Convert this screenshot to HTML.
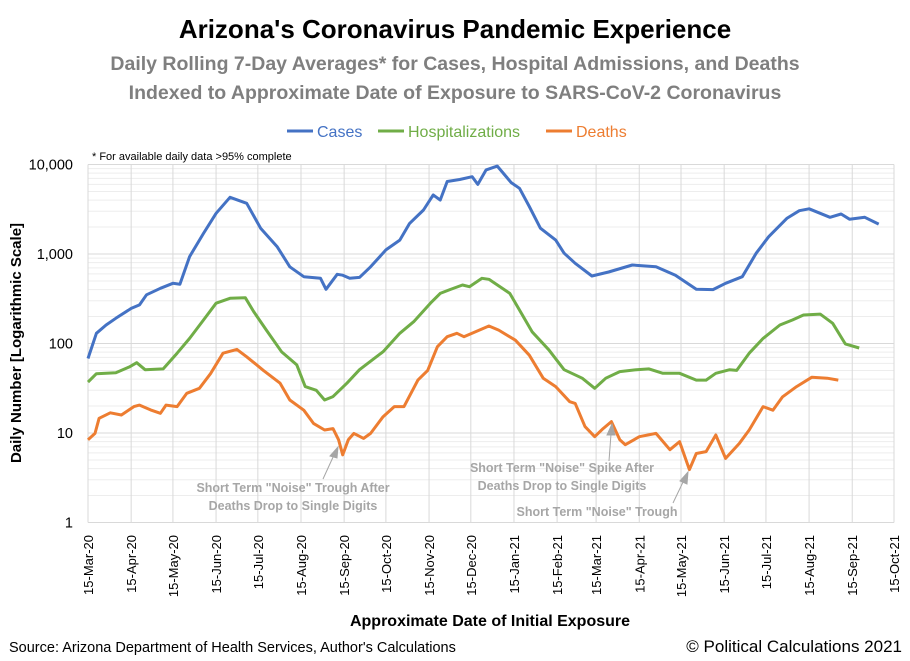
<!DOCTYPE html>
<html><head><meta charset="utf-8"><style>
html,body{margin:0;padding:0;background:#fff;}
svg{display:block;font-family:"Liberation Sans",sans-serif;}
</style></head><body>
<svg id="chart" width="910" height="661" viewBox="0 0 910 661">
<text x="455" y="38" text-anchor="middle" font-size="26" font-weight="bold" fill="#000">Arizona's Coronavirus Pandemic Experience</text>
<text x="455" y="70" text-anchor="middle" font-size="19.5" font-weight="bold" fill="#7f7f7f">Daily Rolling 7-Day Averages* for Cases, Hospital Admissions, and Deaths</text>
<text x="455" y="99" text-anchor="middle" font-size="19.5" font-weight="bold" fill="#7f7f7f">Indexed to Approximate Date of Exposure to SARS-CoV-2 Coronavirus</text>
<g>
<g><line x1="287" y1="131" x2="313" y2="131" stroke="#4472c4" stroke-width="3"/><text x="317" y="137" font-size="16" fill="#4472c4">Cases</text></g>
<g><line x1="378" y1="131" x2="404" y2="131" stroke="#70ad47" stroke-width="3"/><text x="408" y="137" font-size="16" fill="#70ad47">Hospitalizations</text></g>
<g><line x1="546" y1="131" x2="572" y2="131" stroke="#ed7d31" stroke-width="3"/><text x="576" y="137" font-size="16" fill="#ed7d31">Deaths</text></g>
</g>
<text x="92" y="160" font-size="11" fill="#000">* For available daily data &gt;95% complete</text>
<g id="grid"></g>
<g id="yticks"></g>
<g id="xticks"></g>
<g id="series"></g>
<text transform="translate(21,343) rotate(-90)" text-anchor="middle" font-size="15" font-weight="bold">Daily Number [Logarithmic Scale]</text>
<text x="490" y="626" text-anchor="middle" font-size="16" font-weight="bold">Approximate Date of Initial Exposure</text>
<text x="9" y="652" font-size="14.5">Source: Arizona Department of Health Services, Author's Calculations</text>
<text x="902" y="652" text-anchor="end" font-size="17">© Political Calculations 2021</text>
<g fill="#a6a6a6" font-size="12.5" font-weight="bold" text-anchor="middle">
<text x="293" y="492">Short Term "Noise" Trough After</text>
<text x="293" y="510">Deaths Drop to Single Digits</text>
<text x="562" y="472">Short Term "Noise" Spike After</text>
<text x="562" y="490">Deaths Drop to Single Digits</text>
<text x="597" y="516">Short Term "Noise" Trough</text>
</g>
<g stroke="#a6a6a6" stroke-width="1" fill="#a6a6a6">
<line x1="323" y1="479" x2="334" y2="455"/><polygon points="338,447 330,456 337,458"/>
<line x1="609" y1="461" x2="611" y2="434"/><polygon points="612,424 607,435 615,435"/>
<line x1="673" y1="503" x2="684" y2="480"/><polygon points="688,472 680,481 687,484"/>
</g>
</svg>
<script>
const caseDays=[0,6,13,20,31,37,42,52,61,66,73,83,92,102,114,124,136,145,155,167,171,179,183,188,195,203,214,224,231,241,248,253,258,267,276,280,286,294,304,310,317,325,336,342,350,362,374,391,408,422,437,449,458,470,480,489,502,511,518,533,541,547,558,568];
const caseVals=[68,130,161,191,247,270,350,414,470,460,935,1700,2850,4300,3690,1940,1200,720,557,535,403,593,580,535,548,720,1110,1430,2200,3100,4570,4000,6450,6800,7300,6000,8700,9600,6270,5420,3390,1940,1430,1020,787,568,630,753,720,580,403,400,470,557,1020,1560,2500,3050,3200,2570,2800,2450,2570,2160];
const hospDays=[0,6,20,30,35,41,54,64,73,83,92,102,113,119,128,139,150,156,164,170,176,186,195,212,224,234,246,253,260,269,274,283,288,303,319,331,342,355,364,372,382,394,403,413,425,437,444,451,461,466,475,485,497,506,514,526,535,544,554];
const hospVals=[37,46,47,55,61,51,52,78,114,183,282,320,325,227,142,81,57.6,33,30,23.4,25.5,36,51,81,130,175,282,363,400,450,431,535,522,363,135,85,51,41,31.6,41,48.5,51,52,46.4,46.4,39,39,46.4,51,50,78,114,161,183,208,213,168,99,89];
const deathDays=[0,5,8,16,24,33,37,45,52,56,64,71,80,88,97,107,114,126,138,145,155,162,170,176,180,183,187,191,198,203,212,220,227,237,244,251,258,265,270,288,295,307,317,327,336,346,350,357,364,370,376,382,386,396,408,418,425,432,437,444,451,458,468,475,485,492,499,509,520,531,539];
const deathVals=[8.4,9.9,14.6,16.8,15.9,19.7,20.5,18.1,16.6,20.5,19.7,27.8,31.6,46,78,86,71,50,36,23.4,18,12.8,10.8,11.2,8.4,5.7,8.4,9.9,8.7,9.9,15.2,19.7,19.7,39,50,92,119,130,119,157,141,109,74,41,33,22.4,21.4,11.8,9.1,11.2,13.4,8.4,7.4,9.1,9.9,6.5,8.0,3.9,5.9,6.2,9.5,5.2,7.7,10.8,19.7,18,25.4,33,42,41,39];
const yTickVals=[1,10,100,1000,10000];
const yTickLabels=["1","10","100","1,000","10,000"];
const xTickDays=[0,31,61,92,122,153,184,214,245,275,306,337,365,396,426,457,487,518,549,579];
const xTickLabels=["15-Mar-20","15-Apr-20","15-May-20","15-Jun-20","15-Jul-20","15-Aug-20","15-Sep-20","15-Oct-20","15-Nov-20","15-Dec-20","15-Jan-21","15-Feb-21","15-Mar-21","15-Apr-21","15-May-21","15-Jun-21","15-Jul-21","15-Aug-21","15-Sep-21","15-Oct-21"];

const L=88,R=894,T=164.5,B=522.5,NS='http://www.w3.org/2000/svg';
const xS=d=>L+(R-L)*d/579;
const yS=v=>B-(B-T)*Math.log10(v)/4;
function mk(tag,attrs,parent){const e=document.createElementNS(NS,tag);for(const k in attrs)e.setAttribute(k,attrs[k]);parent.appendChild(e);return e;}
const grid=document.getElementById('grid');
for(let p=0;p<4;p++)for(let m=2;m<10;m++){
  const y=yS(m*Math.pow(10,p));
  const ln=mk('line',{x1:L,x2:R,y1:y,y2:y,stroke:'#ededed','stroke-width':1},grid);
  
  
}
xTickDays.forEach(d=>{const x=xS(d);
  const ln=mk('line',{x1:x,x2:x,y1:T,y2:B,stroke:'#d9d9d9','stroke-width':1},grid);
  
  
});
const yt=document.getElementById('yticks');
yTickVals.forEach((v,i)=>{const y=yS(v);
  const ln=mk('line',{x1:L,x2:R,y1:y,y2:y,stroke:'#d9d9d9','stroke-width':1},grid);
  
  
  const t=mk('text',{x:73,y:y+5,'text-anchor':'end','font-size':'14.5'},yt);t.textContent=yTickLabels[i];
  
  
});
const xt=document.getElementById('xticks');
xTickDays.forEach((d,i)=>{const x=xS(d)+5;
  const t=mk('text',{transform:`translate(${x},535) rotate(-90)`,'text-anchor':'end','font-size':'13'},xt);t.textContent=xTickLabels[i];
  
  
});
const ser=document.getElementById('series');
function line(days,vals,color,name){
  const pts=days.map((d,i)=>xS(d).toFixed(1)+','+yS(vals[i]).toFixed(1)).join(' ');
  const pl=mk('polyline',{points:pts,fill:'none',stroke:color,'stroke-width':3,'stroke-linejoin':'round'},ser);
  
  
}
line(caseDays,caseVals,'#4472c4','cases-line');
line(hospDays,hospVals,'#70ad47','hospitalizations-line');
line(deathDays,deathVals,'#ed7d31','deaths-line');
</script>
</body></html>
